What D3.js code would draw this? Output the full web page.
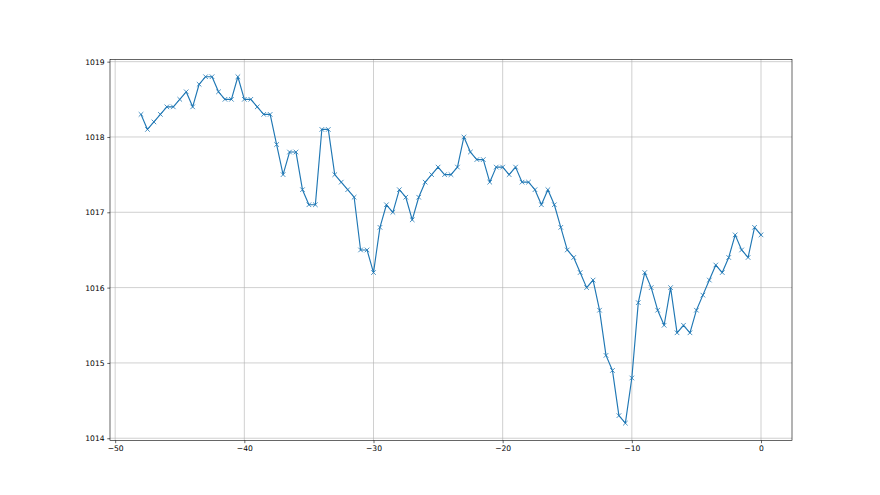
<!DOCTYPE html>
<html>
<head>
<meta charset="utf-8">
<script src="https://cdn.jsdelivr.net/npm/d3@7"></script>
<style>
  body { margin: 0; background: #fff; }
  svg { display: block; }
  .axis text { font-family: "DejaVu Sans", sans-serif; font-size: 7.6px; fill: #000; }
  .axis path, .axis line { stroke: #000; stroke-width: 0.6; }
  .grid line { stroke: #b0b0b0; stroke-width: 0.6; }
</style>
</head>
<body>
<div id="chart"></div>
<script>
// hours before now, half-hour steps
var hours = d3.range(-48, 0.01, 0.5);

var pressure = [
  1018.3, 1018.1, 1018.2, 1018.3, 1018.4, 1018.4, 1018.5, 1018.6, 1018.4, 1018.7,
  1018.8, 1018.8, 1018.6, 1018.5, 1018.5, 1018.8, 1018.5, 1018.5, 1018.4, 1018.3,
  1018.3, 1017.9, 1017.5, 1017.8, 1017.8, 1017.3, 1017.1, 1017.1, 1018.1, 1018.1,
  1017.5, 1017.4, 1017.3, 1017.2, 1016.5, 1016.5, 1016.2, 1016.8, 1017.1, 1017.0,
  1017.3, 1017.2, 1016.9, 1017.2, 1017.4, 1017.5, 1017.6, 1017.5, 1017.5, 1017.6,
  1018.0, 1017.8, 1017.7, 1017.7, 1017.4, 1017.6, 1017.6, 1017.5, 1017.6, 1017.4,
  1017.4, 1017.3, 1017.1, 1017.3, 1017.1, 1016.8, 1016.5, 1016.4, 1016.2, 1016.0,
  1016.1, 1015.7, 1015.1, 1014.9, 1014.3, 1014.2, 1014.8, 1015.8, 1016.2, 1016.0,
  1015.7, 1015.5, 1016.0, 1015.4, 1015.5, 1015.4, 1015.7, 1015.9, 1016.1, 1016.3,
  1016.2, 1016.4, 1016.7, 1016.5, 1016.4, 1016.8, 1016.7
];

var xTicks = [-50, -40, -30, -20, -10, 0];
var yTicks = [1014, 1015, 1016, 1017, 1018, 1019];

var width = 880, height = 495;
var margin = {left: 110, right: 88, top: 59.4, bottom: 54.5};

var data = hours.map(function(h, i) { return {h: h, p: pressure[i]}; });

var svg = d3.select("#chart").append("svg")
    .attr("width", width)
    .attr("height", height);

// 5% margins like matplotlib autoscale
var xMin = d3.min(hours), xMax = d3.max(hours);
var xPad = (xMax - xMin) * 0.05;
var yMin = d3.min(pressure), yMax = d3.max(pressure);
var yPad = (yMax - yMin) * 0.05;

var x = d3.scaleLinear()
    .domain([xMin - xPad, xMax + xPad])
    .range([margin.left, width - margin.right]);

var y = d3.scaleLinear()
    .domain([yMin - yPad, yMax + yPad])
    .range([height - margin.bottom, margin.top]);

// grid
var grid = svg.append("g").attr("class", "grid");
grid.selectAll(".gx").data(xTicks).enter().append("line")
    .attr("x1", function(d) { return x(d); })
    .attr("x2", function(d) { return x(d); })
    .attr("y1", margin.top)
    .attr("y2", height - margin.bottom);
grid.selectAll(".gy").data(yTicks).enter().append("line")
    .attr("x1", margin.left)
    .attr("x2", width - margin.right)
    .attr("y1", function(d) { return y(d); })
    .attr("y2", function(d) { return y(d); });

var line = d3.line()
    .x(function(d) { return x(d.h); })
    .y(function(d) { return y(d.p); });

svg.append("path")
    .datum(data)
    .attr("fill", "none")
    .attr("stroke", "#1f77b4")
    .attr("stroke-width", 1.15)
    .attr("stroke-linejoin", "round")
    .attr("stroke-linecap", "square")
    .attr("d", line);

// x markers
var s = 2.3;
svg.append("g").selectAll("path").data(data).enter().append("path")
    .attr("d", function(d) {
      var cx = x(d.h), cy = y(d.p);
      return "M" + (cx - s) + "," + (cy - s) + "L" + (cx + s) + "," + (cy + s) +
             "M" + (cx - s) + "," + (cy + s) + "L" + (cx + s) + "," + (cy - s);
    })
    .attr("stroke", "#1f77b4")
    .attr("stroke-width", 0.8)
    .attr("fill", "none");

// frame
svg.append("rect")
    .attr("x", margin.left)
    .attr("y", margin.top)
    .attr("width", width - margin.left - margin.right)
    .attr("height", height - margin.top - margin.bottom)
    .attr("fill", "none")
    .attr("stroke", "#000")
    .attr("stroke-width", 0.6);

var axisX = d3.axisBottom(x)
    .tickValues(xTicks)
    .tickSize(2.7)
    .tickPadding(2.7)
    .tickFormat(function(d) { return d < 0 ? "\u2212" + Math.abs(d) : d; });

var axisY = d3.axisLeft(y)
    .tickValues(yTicks)
    .tickSize(2.7)
    .tickPadding(2.7)
    .tickFormat(d3.format("d"));

svg.append("g")
    .attr("class", "x axis")
    .attr("transform", "translate(0," + (height - margin.bottom) + ")")
    .call(axisX)
    .call(function(g) { g.select(".domain").remove(); });

svg.append("g")
    .attr("class", "y axis")
    .attr("transform", "translate(" + margin.left + ",0)")
    .call(axisY)
    .call(function(g) { g.select(".domain").remove(); });
</script>
</body>
</html>
